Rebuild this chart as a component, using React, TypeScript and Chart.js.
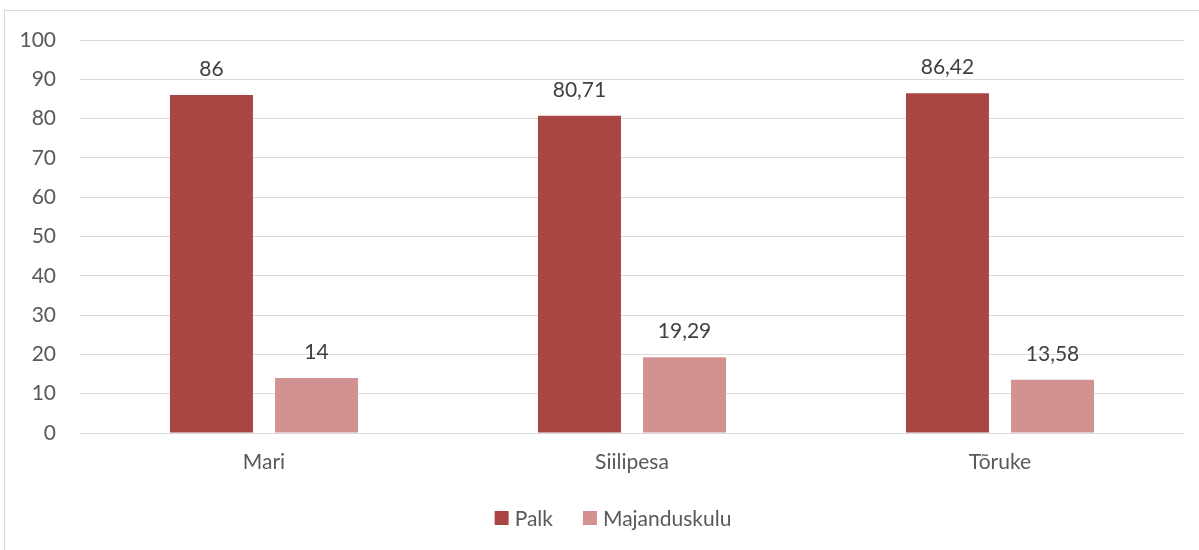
import React, { useEffect, useRef } from "react";
import { Chart, registerables } from "chart.js";

Chart.register(...registerables);

const categories = ["Mari", "Siilipesa", "Tõruke"];
const palkValues = [86, 80.71, 86.42];
const majandusValues = [14, 19.29, 13.58];
const seriesNames = ["Palk", "Majanduskulu"];
const seriesColors = ["#a94644", "#d39292"];
const yTicks = [0, 10, 20, 30, 40, 50, 60, 70, 80, 90, 100];

const FONT = "Lato, 'Open Sans', sans-serif";
const TEXT = "#595959";
const SIZE = 21;

const fmt = (v: number) => String(v).replace(".", ",");

const dataLabelPlugin = {
  id: "dataLabels",
  afterDatasetsDraw(chart: any) {
    const ctx = chart.ctx;
    ctx.save();
    ctx.font = `${SIZE}px ${FONT}`;
    ctx.fillStyle = "#404040";
    ctx.textAlign = "center";
    ctx.textBaseline = "alphabetic";
    chart.data.datasets.forEach((ds: any, i: number) => {
      const meta = chart.getDatasetMeta(i);
      meta.data.forEach((bar: any, j: number) => {
        ctx.fillText(fmt(ds.data[j]), bar.x, bar.y - 19);
      });
    });
    ctx.restore();
  },
};

const legendPlugin = {
  id: "customLegend",
  afterDraw(chart: any) {
    const ctx = chart.ctx;
    ctx.save();
    ctx.font = `${SIZE}px ${FONT}`;
    const box = 14;
    const gapText = 6;
    const gapItem = 30;
    const items = chart.data.datasets.map((ds: any) => ({
      label: ds.label,
      color: ds.backgroundColor,
      w: ctx.measureText(ds.label).width,
    }));
    const total =
      items.reduce((a: number, it: any) => a + box + gapText + it.w, 0) + gapItem * (items.length - 1);
    let x = 613 - total / 2;
    const cy = 518;
    items.forEach((it: any) => {
      ctx.fillStyle = it.color;
      ctx.fillRect(x, cy - box / 2, box, box);
      x += box + gapText;
      ctx.fillStyle = TEXT;
      ctx.textAlign = "left";
      ctx.textBaseline = "middle";
      ctx.fillText(it.label, x, cy + 1);
      x += it.w + gapItem;
    });
    ctx.restore();
  },
};

export default function App() {
  const ref = useRef<HTMLCanvasElement>(null);
  useEffect(() => {
    const chart = new Chart(ref.current as HTMLCanvasElement, {
      type: "bar",
      data: {
        labels: categories,
        datasets: [
          {
            label: seriesNames[0],
            data: palkValues,
            backgroundColor: seriesColors[0],
            categoryPercentage: 0.571,
            barPercentage: 0.79,
          },
          {
            label: seriesNames[1],
            data: majandusValues,
            backgroundColor: seriesColors[1],
            categoryPercentage: 0.571,
            barPercentage: 0.79,
          },
        ],
      },
      options: {
        animation: false,
        responsive: false,
        maintainAspectRatio: false,
        layout: { padding: { top: 40, right: 15, left: 0, bottom: 0 } },
        scales: {
          x: {
            grid: { display: false, drawTicks: false },
            border: { display: false },
            ticks: { color: TEXT, font: { family: FONT, size: SIZE }, padding: 17 },
            afterFit: (s: any) => {
              s.height = 117;
            },
          },
          y: {
            min: 0,
            max: 100,
            afterBuildTicks: (s: any) => {
              s.ticks = yTicks.map((v) => ({ value: v }));
            },
            grid: { color: "#d9d9d9", lineWidth: 1, drawTicks: false },
            border: { display: false },
            ticks: { color: TEXT, font: { family: FONT, size: SIZE }, padding: 24 },
            afterFit: (s: any) => {
              s.width = 80;
            },
          },
        },
        plugins: {
          legend: { display: false },
          tooltip: { enabled: false },
        },
      },
      plugins: [dataLabelPlugin, legendPlugin],
    });
    return () => chart.destroy();
  }, []);
  return (
    <div style={{ position: "fixed", left: 0, top: 0, width: 1199, height: 550, background: "#fff", overflow: "hidden" }}>
      <div
        style={{
          position: "absolute",
          left: 4,
          top: 10,
          width: 1300,
          height: 700,
          border: "1px solid #d9d9d9",
        }}
      />
      <canvas ref={ref} width={1199} height={550} style={{ position: "absolute", left: 0, top: 0 }} />
    </div>
  );
}
